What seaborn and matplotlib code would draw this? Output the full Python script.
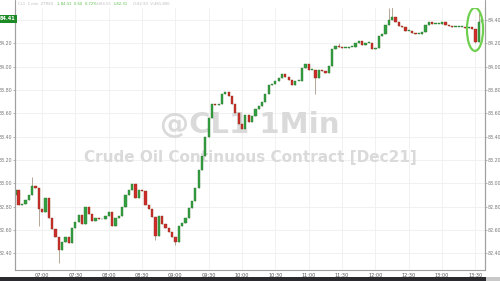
import matplotlib
matplotlib.use("Agg")
import matplotlib.pyplot as plt
from matplotlib.patches import Ellipse, Rectangle
import numpy as np
import pandas as pd
import seaborn as sns

# ---- data (3-minute bars, first bar at 06:36) ----
start_minute = -24          # minutes relative to 07:00
bar_minutes = 3
first_open = 82.90
closes = [
    82.94, 82.81, 82.82, 82.86, 82.90, 82.98, 82.96, 82.78, 82.75, 82.87,
    82.70, 82.61, 82.54, 82.43, 82.50, 82.54, 82.49, 82.62, 82.67, 82.73,
    82.65, 82.80, 82.74, 82.68, 82.70, 82.69, 82.69, 82.72, 82.75, 82.63,
    82.70, 82.72, 82.80, 82.90, 82.94, 82.99, 82.87, 82.94, 82.93, 82.81,
    82.78, 82.71, 82.55, 82.72, 82.65, 82.62, 82.58, 82.54, 82.50, 82.63,
    82.66, 82.70, 82.79, 82.85, 82.96, 83.11, 83.23, 83.40, 83.56, 83.68,
    83.67, 83.68, 83.77, 83.78, 83.75, 83.68, 83.60, 83.51, 83.47, 83.59,
    83.53, 83.58, 83.64, 83.66, 83.70, 83.77, 83.84, 83.85, 83.88, 83.90,
    83.94, 83.91, 83.89, 83.84, 83.88, 83.88, 83.99, 84.02, 83.97, 83.97,
    83.90, 83.97, 83.96, 83.95, 84.01, 84.15, 84.18, 84.17, 84.16, 84.16,
    84.17, 84.17, 84.20, 84.22, 84.19, 84.20, 84.20, 84.15, 84.16, 84.26,
    84.28, 84.36, 84.40, 84.43, 84.38, 84.35, 84.34, 84.31, 84.31, 84.29,
    84.28, 84.28, 84.30, 84.36, 84.38, 84.37, 84.37, 84.37, 84.38, 84.36,
    84.35, 84.34, 84.34, 84.34, 84.34, 84.33, 84.34, 84.32, 84.21, 84.38,
    84.41,
]
# notable wick extremes (bar index -> price)
wick_high_idx = [5, 97, 112, 113, 139]
wick_high_val = [83.05, 84.20, 84.50, 84.53, 84.46]
wick_low_idx = [7, 13, 42, 48, 90, 138]
wick_low_val = [82.63, 82.32, 82.51, 82.47, 83.77, 84.20]

last_price = "84.41"
y_ticks = [82.40, 82.60, 82.80, 83.00, 83.20, 83.40, 83.60, 83.80, 84.00, 84.20, 84.40]
x_tick_labels = ["07:00", "07:30", "08:00", "08:30", "09:00", "09:30", "10:00",
                 "10:30", "11:00", "11:30", "12:00", "12:30", "13:00", "13:30"]
watermark1 = "@CL1 1Min"
watermark2 = "Crude Oil Continuous Contract [Dec21]"

# ---- build frame ----
df = pd.DataFrame({"close": closes})
df["t"] = start_minute + bar_minutes * np.arange(len(df))
df["open"] = [first_open] + closes[:-1]
df["high"] = df[["open", "close"]].max(axis=1)
df["low"] = df[["open", "close"]].min(axis=1)
df.loc[wick_high_idx, "high"] = wick_high_val
df.loc[wick_low_idx, "low"] = wick_low_val
df["up"] = df["close"] >= df["open"]

sns.set_theme(style="white")
plt.rcParams["font.family"] = ["DejaVu Sans"]

W, H = 500, 281
fig = plt.figure(figsize=(W / 100, H / 100), dpi=100)
fig.patch.set_facecolor("white")

# axes: x 15..485 px, y 8..270 px
ax = fig.add_axes([15 / W, (H - 270) / H, 470 / W, 262 / H])
ax.set_facecolor("white")
ax.set_xlim(-24.3, 398.7)
ax.set_ylim(82.257, 84.503)

# grid
for i in range(len(x_tick_labels)):
    ax.axvline(30 * i, color="#efefef", lw=0.6, zorder=0)
for v in y_ticks:
    ax.axhline(v, color="#efefef", lw=0.6, zorder=0)

# watermark
ax.text(0.50, 0.553, watermark1, transform=ax.transAxes, ha="center", va="center",
        fontsize=21, fontweight="bold", color="#dadada", zorder=1)
ax.text(0.50, 0.428, watermark2, transform=ax.transAxes, ha="center", va="center",
        fontsize=11, fontweight="bold", color="#dadada", zorder=1)

# candles
up_col, dn_col = "#33a043", "#cf2b2b"
ax.vlines(df["t"], df["low"], df["high"], color="#a89888", lw=0.6, zorder=2)
body_bottom = df[["open", "close"]].min(axis=1)
body_h = (df["close"] - df["open"]).abs().clip(lower=0.008)
colors = [up_col if u else dn_col for u in df["up"]]
edges = ["#2f7a2f" if u else "#8a3a1a" for u in df["up"]]
ax.bar(df["t"], body_h, bottom=body_bottom, width=2.1, color=colors,
       edgecolor=edges, linewidth=0.3, zorder=3)

# green highlight ellipse
ax.add_patch(Ellipse((389.7, 84.32), 14.5, 0.37, fill=False,
                     edgecolor="#6fd04f", lw=1.6, zorder=4))

# axes styling
ax.spines["top"].set_visible(False)
for s in ["left", "right", "bottom"]:
    ax.spines[s].set_color("#a0a0a0")
    ax.spines[s].set_linewidth(0.8)
ax.set_xticks([30 * i for i in range(len(x_tick_labels))])
ax.set_xticklabels(x_tick_labels, fontsize=3.6, color="#555555")
ax.set_yticks(y_ticks)
ax.set_yticklabels([f"{v:.2f}" for v in y_ticks], fontsize=3.4, color="#777777")
ax.tick_params(axis="x", length=0, pad=2)
ax.tick_params(axis="y", length=1.5, width=0.5, color="#999999", pad=0.5,
               direction="out", labelleft=True, labelright=True, left=True, right=True)
# top-left tick label is covered by the last-price badge in the reference
ax.yaxis.get_major_ticks()[-1].label1.set_visible(False)

# axis lines extend to top of image
fig.add_artist(plt.Line2D([15 / W, 15 / W], [(H - 270) / H, 1], color="#a0a0a0", lw=0.8))
fig.add_artist(plt.Line2D([485 / W, 485 / W], [(H - 270) / H, 1], color="#a0a0a0", lw=0.8))

# last price label
fig.text(7.5 / W, (H - 19) / H, last_price, ha="center", va="center", fontsize=3.6,
         color="white", fontweight="bold",
         bbox=dict(boxstyle="square,pad=0.25", fc="#1d8a26", ec="none"))

# header text
hdr_y = (H - 4) / H
fs = 2.7
fig.text(18 / W, hdr_y, "CL1  1 min  ZTREX", fontsize=fs, color="#bbbbbb", va="center")
fig.text(57 / W, hdr_y, "1,84.41  0.60  0.72%", fontsize=fs, color="#5cbf4a", va="center")
fig.text(97 / W, hdr_y, "H:84.55", fontsize=fs, color="#bbbbbb", va="center")
fig.text(114 / W, hdr_y, "L:82.31", fontsize=fs, color="#5cbf4a", va="center")
fig.text(133 / W, hdr_y, "O:82.90  V:481,800", fontsize=fs, color="#bbbbbb", va="center")

# bottom dark bar
fig.add_artist(Rectangle((0, 0), 1, 4 / H, transform=fig.transFigure,
                         facecolor="#2b2b2f", edgecolor="none"))
fig.add_artist(Rectangle((486 / W, 0), 14 / W, 4 / H, transform=fig.transFigure,
                         facecolor="#c8c8c8", edgecolor="none"))

fig.savefig("out.png", dpi=100)
